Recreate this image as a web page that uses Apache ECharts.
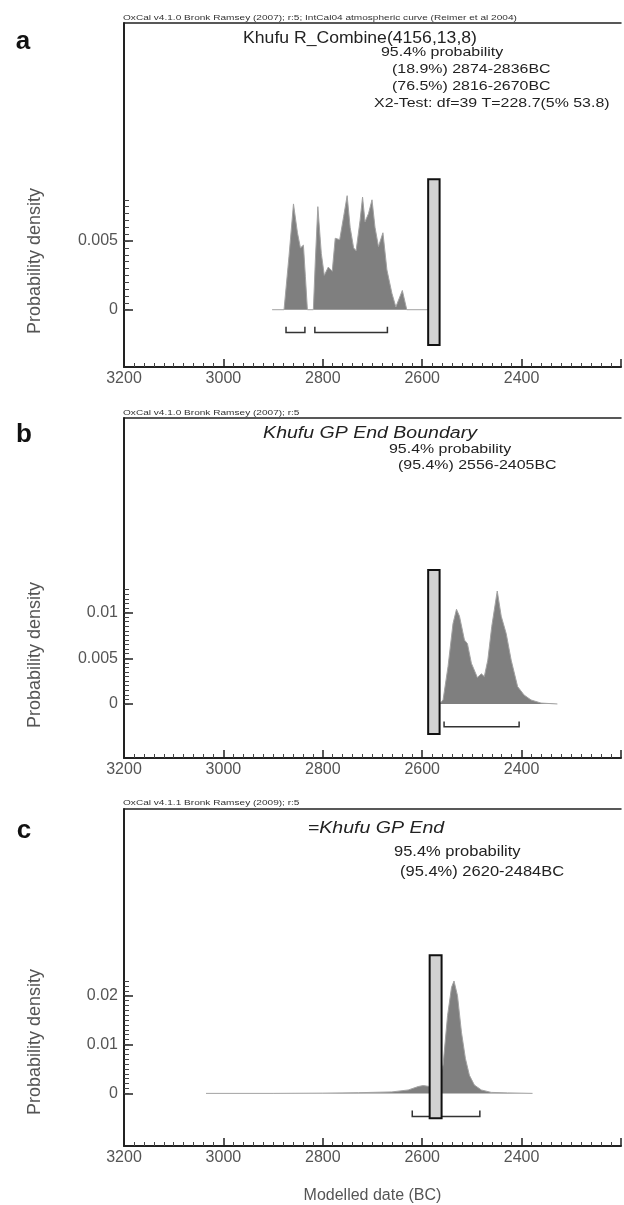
<!DOCTYPE html>
<html>
<head>
<meta charset="utf-8">
<script src="https://cdn.jsdelivr.net/npm/echarts@6/dist/echarts.min.js"></script>
<style>
  html, body { margin: 0; padding: 0; background: #fff; }
  #main { width: 624px; height: 1205px; }
</style>
</head>
<body>
<div id="main"></div>
<script>
// --- panel a : Khufu R_Combine ---
const datesA = [2902, 2878, 2868, 2859, 2851, 2845, 2839, 2835, 2831, 2819, 2815, 2810, 2803, 2797, 2789, 2781, 2775,
  2766, 2758, 2751, 2745, 2738, 2733, 2725, 2720, 2715, 2708, 2701, 2695, 2688, 2679, 2671, 2661, 2653, 2640, 2631, 2570];
const densA = [0, 0, 0.0039, 0.0077, 0.0056, 0.0045, 0.0047, 0.0024, 0, 0, 0.0036, 0.0075, 0.0041, 0.0025, 0.0031, 0.0028, 0.0052,
  0.0051, 0.0068, 0.0083, 0.006, 0.0045, 0.0043, 0.0065, 0.0082, 0.0064, 0.007, 0.008, 0.006, 0.0046, 0.0056, 0.0029, 0.0012, 0.0002, 0.0014, 0, 0];
const rangesA = [[2874, 2836], [2816, 2670]];
const boxA = [2588, 2565, -0.00257, 0.00949];
const yTicksA = [0, 0.005];

// --- panel b : Khufu GP End Boundary ---
const datesB = [2565, 2558, 2548, 2538, 2531, 2525, 2515, 2509, 2501, 2489, 2481, 2475, 2468, 2460, 2449, 2441, 2431,
  2421, 2408, 2395, 2381, 2361, 2328];
const densB = [0, 0.00044, 0.0041, 0.0088, 0.01036, 0.0096, 0.007, 0.0066, 0.00445, 0.0029, 0.0033, 0.003, 0.0048, 0.0085, 0.01236, 0.0096, 0.0077,
  0.0048, 0.0019, 0.00098, 0.00044, 0.0001, 0];
const rangesB = [[2556, 2405]];
const boxB = [2588, 2565, -0.00328, 0.01466];
const yTicksB = [0, 0.005, 0.01];

// --- panel c : =Khufu GP End ---
const datesC = [3035, 2900, 2800, 2728, 2661, 2628, 2608, 2598, 2585, 2568, 2558, 2549, 2541, 2536, 2529, 2521, 2513,
  2505, 2495, 2481, 2461, 2428, 2378];
const densC = [0, 0, 0.00005, 0.00014, 0.0003, 0.0007, 0.0014, 0.0016, 0.0014, 0.002, 0.0058, 0.0159, 0.0217, 0.023, 0.02, 0.0125, 0.0071,
  0.0037, 0.0017, 0.0007, 0.0002, 0.0001, 0];
const rangesC = [[2620, 2484]];
const boxC = [2585, 2561, -0.00508, 0.02825];
const yTicksC = [0, 0.01, 0.02];

const headers = [
  'OxCal v4.1.0 Bronk Ramsey (2007); r:5; IntCal04 atmospheric curve (Reimer et al 2004)',
  'OxCal v4.1.0 Bronk Ramsey (2007); r:5',
  'OxCal v4.1.1 Bronk Ramsey (2009); r:5'
];
const titles = ['Khufu R_Combine(4156,13,8)', 'Khufu GP End Boundary', '=Khufu GP End'];
const infoA = ['95.4% probability', '(18.9%) 2874-2836BC', '(76.5%) 2816-2670BC', 'X2-Test: df=39 T=228.7(5% 53.8)'];
const infoB = ['95.4% probability', '(95.4%) 2556-2405BC'];
const infoC = ['95.4% probability', '(95.4%) 2620-2484BC'];
const letters = ['a', 'b', 'c'];

const FONT = '"Liberation Sans", Arial, sans-serif';
const AXIS = '#222';
const LABEL = '#555';

// layout of the three frames
const panels = [
  { top: 23, height: 344, yMin: -0.00417, yMax: 0.02087, minorStep: 0.0005, minorTop: 0.008, br: [-0.00165, -0.00124],
    dates: datesA, dens: densA, ranges: rangesA, box: boxA, ticks: yTicksA },
  { top: 418, height: 340, yMin: -0.00591, yMax: 0.03129, minorStep: 0.0005, minorTop: 0.0125, br: [-0.00248, -0.00193],
    dates: datesB, dens: densB, ranges: rangesB, box: boxB, ticks: yTicksB },
  { top: 809, height: 340, yMin: -0.01077, yMax: 0.0582, minorStep: 0.001, minorTop: 0.023, br: [-0.00474, -0.00352],
    dates: datesC, dens: densC, ranges: rangesC, box: boxC, ticks: yTicksC }
];

const chart = echarts.init(document.getElementById('main'));

const grid = [], xAxis = [], yAxis = [], series = [];

panels.forEach((p, i) => {
  grid.push({ left: 124, width: 500, top: p.top, height: p.height });

  xAxis.push({
    gridIndex: i, type: 'value', min: 2200, max: 3200, interval: 200, inverse: true, position: 'bottom',
    axisLine: { onZero: false, lineStyle: { color: AXIS, width: 2 } },
    axisTick: { inside: true, length: 8, lineStyle: { color: AXIS, width: 1.5 } },
    minorTick: { show: true, splitNumber: 10, length: 4, lineStyle: { color: '#444', width: 1 } },
    axisLabel: { fontSize: 16, color: LABEL, fontFamily: FONT, margin: 4,
      formatter: v => (v === 2200 ? '' : String(v)) },
    splitLine: { show: false }, minorSplitLine: { show: false },
    name: i === 2 ? 'Modelled date (BC)' : '',
    nameLocation: 'middle', nameGap: 42,
    nameTextStyle: { fontSize: 16, color: LABEL, fontFamily: FONT }
  });
  // top edge of the frame
  xAxis.push({
    gridIndex: i, type: 'value', min: 2200, max: 3200, inverse: true, position: 'top',
    axisLine: { onZero: false, lineStyle: { color: AXIS, width: 1.5 } },
    axisTick: { show: false }, axisLabel: { show: false }, splitLine: { show: false }
  });

  const minor = [];
  for (let v = 0; v <= p.minorTop + 1e-9; v += p.minorStep) minor.push(+v.toFixed(5));

  yAxis.push({
    gridIndex: i, type: 'value', min: p.yMin, max: p.yMax, position: 'left',
    axisLine: { show: true, onZero: false, lineStyle: { color: AXIS, width: 2 } },
    axisTick: { show: true, inside: true, length: 9, customValues: p.ticks, lineStyle: { color: AXIS, width: 1.5 } },
    axisLabel: { customValues: p.ticks, fontSize: 16, color: LABEL, fontFamily: FONT, margin: 6,
      formatter: v => String(v) },
    splitLine: { show: false }
  });
  yAxis.push({
    gridIndex: i, type: 'value', min: p.yMin, max: p.yMax, position: 'left',
    axisLine: { show: false, onZero: false },
    axisTick: { show: true, inside: true, length: 5, customValues: minor, lineStyle: { color: '#444', width: 1 } },
    axisLabel: { show: false }, splitLine: { show: false }
  });

  series.push({
    type: 'line', xAxisIndex: 2 * i, yAxisIndex: 2 * i, z: 2,
    data: p.dates.map((d, k) => [d, p.dens[k]]),
    showSymbol: false, animation: false,
    lineStyle: { color: '#a2a2a2', width: 1 },
    areaStyle: { color: '#7f7f7f', opacity: 1 }
  });

  const br = p.br;
  series.push({
    type: 'custom', xAxisIndex: 2 * i, yAxisIndex: 2 * i, z: 3, animation: false,
    data: p.ranges,
    renderItem: (params, api) => {
      const s = api.value(0), e = api.value(1);
      const pts = [api.coord([s, br[1]]), api.coord([s, br[0]]), api.coord([e, br[0]]), api.coord([e, br[1]])];
      return { type: 'polyline', shape: { points: pts }, style: { stroke: '#333', lineWidth: 1.5, fill: null } };
    }
  });

  series.push({
    type: 'custom', xAxisIndex: 2 * i, yAxisIndex: 2 * i, z: 5, animation: false,
    data: [p.box],
    renderItem: (params, api) => {
      const a = api.coord([api.value(0), api.value(3)]);
      const b = api.coord([api.value(1), api.value(2)]);
      return {
        type: 'rect',
        shape: { x: Math.min(a[0], b[0]), y: Math.min(a[1], b[1]), width: Math.abs(b[0] - a[0]), height: Math.abs(b[1] - a[1]) },
        style: { fill: '#d2d2d2', stroke: '#111', lineWidth: 2 }
      };
    }
  });
});

// texts (the source figure is a little stretched sideways, hence scaleX)
function txt(x, y, text, opt, sx, sy) {
  return {
    type: 'text', x: x, y: y, scaleX: sx || 1, scaleY: sy || 1,
    style: Object.assign({ text: text, font: '16px ' + FONT, fill: '#222', textAlign: 'left', textVerticalAlign: 'middle' }, opt || {})
  };
}

const graphic = [];
// panel letters
graphic.push(txt(23, 42, letters[0], { font: 'bold 26px ' + FONT, fill: '#111', textAlign: 'center' }));
graphic.push(txt(24, 435, letters[1], { font: 'bold 26px ' + FONT, fill: '#111', textAlign: 'center' }));
graphic.push(txt(24, 831, letters[2], { font: 'bold 26px ' + FONT, fill: '#111', textAlign: 'center' }));

// small header lines above each frame
[[18, 0], [413, 1], [803, 2]].forEach(([y, k]) => {
  graphic.push(txt(123, y, headers[k], { font: '9px ' + FONT, fill: '#333' }, 1.12, 0.85));
});

// titles
graphic.push(txt(360, 38.6, titles[0], { font: '16px ' + FONT, textAlign: 'center' }, 1.1));
graphic.push(txt(370, 433.6, titles[1], { font: 'italic 16px ' + FONT, textAlign: 'center' }, 1.22));
graphic.push(txt(376, 828.5, titles[2], { font: 'italic 17px ' + FONT, textAlign: 'center' }, 1.15));

// probability lines
const SUB = { font: '13.5px ' + FONT };
graphic.push(txt(381, 52, infoA[0], SUB, 1.18));
graphic.push(txt(392, 69, infoA[1], SUB, 1.18));
graphic.push(txt(392, 86, infoA[2], SUB, 1.18));
graphic.push(txt(374, 103, infoA[3], SUB, 1.18));
graphic.push(txt(389, 449, infoB[0], SUB, 1.18));
graphic.push(txt(398, 465, infoB[1], SUB, 1.18));
graphic.push(txt(394, 851.6, infoC[0], { font: '15px ' + FONT }, 1.1));
graphic.push(txt(400, 872, infoC[1], { font: '15px ' + FONT }, 1.1));

// y axis names
[261, 655, 1042].forEach(y => {
  const t = txt(35, y, 'Probability density', { font: '18px ' + FONT, fill: LABEL, textAlign: 'center' });
  t.rotation = Math.PI / 2;
  graphic.push(t);
});

chart.setOption({
  animation: false,
  backgroundColor: '#fff',
  grid: grid,
  xAxis: xAxis,
  yAxis: yAxis,
  series: series,
  graphic: graphic
});

window.addEventListener('resize', () => chart.resize());
</script>
</body>
</html>
